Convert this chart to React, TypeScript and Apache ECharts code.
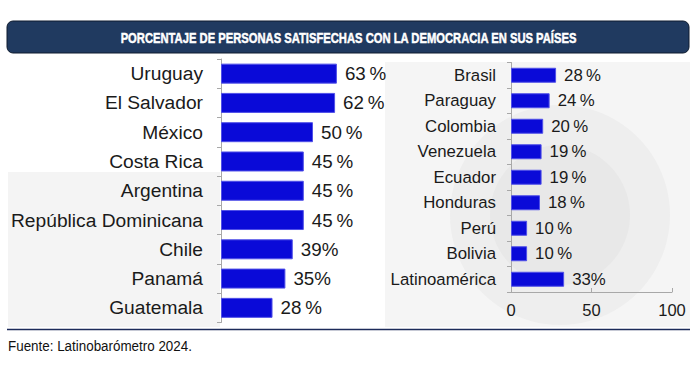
import React, { useEffect, useRef } from "react";
import * as echarts from "echarts";

const titleText = "PORCENTAJE DE PERSONAS SATISFECHAS CON LA DEMOCRACIA EN SUS PAÍSES";
const sourceText = "Fuente: Latinobarómetro 2024.";

const leftCategories = ["Uruguay", "El Salvador", "México", "Costa Rica", "Argentina", "República Dominicana", "Chile", "Panamá", "Guatemala"];
const leftValues = [63, 62, 50, 45, 45, 45, 39, 35, 28];
const leftLabels = ["63\u2009%", "62\u2009%", "50\u2009%", "45\u2009%", "45\u2009%", "45\u2009%", "39%", "35%", "28\u2009%"];

const rightCategories = ["Brasil", "Paraguay", "Colombia", "Venezuela", "Ecuador", "Honduras", "Perú", "Bolivia", "Latinoamérica"];
const rightValues = [28, 24, 20, 19, 19, 18, 10, 10, 33];
const rightLabels = ["28\u2009%", "24\u2009%", "20\u2009%", "19\u2009%", "19\u2009%", "18\u2009%", "10\u2009%", "10\u2009%", "33%"];

const xTicks = [0, 50, 100];

function measure(text: string, font: string): number {
  const c = document.createElement("canvas").getContext("2d");
  if (!c) return text.length * 7;
  c.font = font;
  return c.measureText(text).width;
}

export default function App() {
  const ref = useRef<HTMLDivElement>(null);
  useEffect(() => {
    document.body.style.margin = "0";
    if (!ref.current) return;
    const chart = echarts.init(ref.current, null, { renderer: "svg" });
    const barColor = "#0a0ad8";
    const barBorder = "#5050e8";
    const axisGray = "#a8a8a8";
    const titleFont = "bold 15px 'Liberation Sans', Arial, sans-serif";
    const titleW = measure(titleText, titleFont);
    const titleScale = 457 / titleW;
    const srcFont = "15px 'Liberation Sans', Arial, sans-serif";
    const srcW = measure(sourceText, srcFont);
    const srcScale = 184 / srcW;

    chart.setOption({
      animation: false,
      backgroundColor: "#ffffff",
      graphic: [
        { type: "rect", z: -10, shape: { x: 8, y: 172, width: 212, height: 155 }, style: { fill: "#f4f4f4" } },
        { type: "rect", z: -10, shape: { x: 385, y: 62, width: 305, height: 265 }, style: { fill: "#f5f5f5" } },
        { type: "circle", z: -9, shape: { cx: 560, cy: 215, r: 110 }, style: { fill: "#eeeeee" } },
        { type: "circle", z: -9, shape: { cx: 560, cy: 215, r: 70 }, style: { fill: "#e8e8e8" } },
        {
          type: "rect",
          shape: { x: 7, y: 21, width: 682, height: 32, r: 6 },
          style: { fill: "#203a60", stroke: "#0e1b2e", lineWidth: 1 },
        },
        {
          type: "text",
          x: 348.5,
          y: 37.5,
          scaleX: titleScale,
          style: {
            text: titleText,
            fill: "#ffffff",
            stroke: "#ffffff",
            lineWidth: 0.5,
            font: titleFont,
            align: "center",
            verticalAlign: "middle",
          },
        },
        {
          type: "line",
          shape: { x1: 7, y1: 329.5, x2: 690, y2: 329.5 },
          style: { stroke: "#1c2b5a", lineWidth: 1.5 },
        },
        {
          type: "text",
          x: 8,
          y: 346,
          scaleX: srcScale,
          style: {
            text: sourceText,
            fill: "#111111",
            font: srcFont,
            align: "left",
            verticalAlign: "middle",
          },
        },
      ],
      grid: [
        { left: 221, top: 59, width: 184, height: 263.5 },
        { left: 511, top: 62.5, width: 161, height: 229.5 },
      ],
      xAxis: [
        { gridIndex: 0, type: "value", min: 0, max: 100, show: false },
        {
          gridIndex: 1,
          type: "value",
          min: 0,
          max: 100,
          interval: 50,
          axisLine: { show: true, lineStyle: { color: axisGray } },
          axisTick: { show: true, inside: true, length: 4, lineStyle: { color: axisGray } },
          splitLine: { show: false },
          axisLabel: {
            margin: 9,
            color: "#1a1a1a",
            fontSize: 16.5,
            fontFamily: "'Liberation Sans', Arial, sans-serif",
            formatter: (v: number) => (xTicks.includes(v) ? String(v) : ""),
          },
        },
      ],
      yAxis: [
        {
          gridIndex: 0,
          type: "category",
          inverse: true,
          data: leftCategories,
          axisLine: { show: true, lineStyle: { color: axisGray } },
          axisTick: { show: true, length: 4, lineStyle: { color: axisGray } },
          axisLabel: {
            margin: 18,
            color: "#1a1a1a",
            fontSize: 19.2,
            fontFamily: "'Liberation Sans', Arial, sans-serif",
          },
        },
        {
          gridIndex: 1,
          type: "category",
          inverse: true,
          data: rightCategories,
          axisLine: { show: true, lineStyle: { color: axisGray } },
          axisTick: { show: true, length: 4, lineStyle: { color: axisGray } },
          axisLabel: {
            margin: 15,
            color: "#1a1a1a",
            fontSize: 16.8,
            fontFamily: "'Liberation Sans', Arial, sans-serif",
          },
        },
      ],
      series: [
        {
          type: "bar",
          xAxisIndex: 0,
          yAxisIndex: 0,
          data: leftValues,
          barWidth: 20,
          itemStyle: { color: barColor, borderColor: barBorder, borderWidth: 1 },
          label: {
            show: true,
            position: "right",
            distance: 8,
            color: "#1a1a1a",
            fontSize: 18.8,
            fontFamily: "'Liberation Sans', Arial, sans-serif",
            formatter: (p: any) => leftLabels[p.dataIndex],
          },
        },
        {
          type: "bar",
          xAxisIndex: 1,
          yAxisIndex: 1,
          data: rightValues,
          barWidth: 15,
          itemStyle: { color: barColor, borderColor: barBorder, borderWidth: 1 },
          label: {
            show: true,
            position: "right",
            distance: 8,
            color: "#1a1a1a",
            fontSize: 16.8,
            fontFamily: "'Liberation Sans', Arial, sans-serif",
            formatter: (p: any) => rightLabels[p.dataIndex],
          },
        },
      ],
    });
    return () => chart.dispose();
  }, []);
  return <div ref={ref} style={{ width: 700, height: 368 }} />;
}
